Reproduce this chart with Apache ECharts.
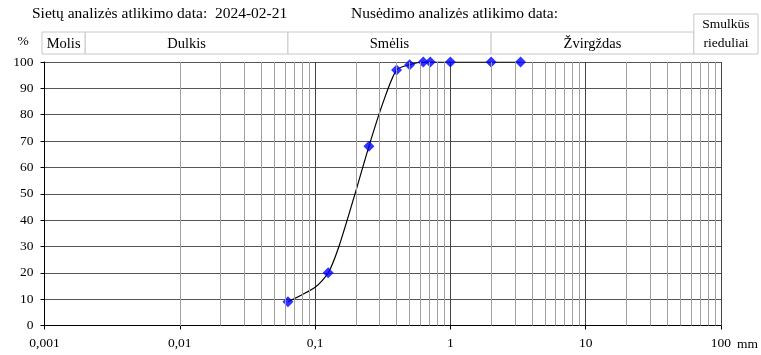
<!DOCTYPE html>
<html>
<head>
<meta charset="utf-8">
<script src="https://cdn.jsdelivr.net/npm/echarts@6/dist/echarts.min.js"></script>
<style>
  html, body { margin: 0; padding: 0; background: #fff; }
  #chart { width: 761px; height: 355px; }
</style>
</head>
<body>
<div id="chart"></div>
<script>
// sieve results: size (mm) and passing (%)
const sieveSizes = [0.063, 0.125, 0.25, 0.4, 0.5, 0.63, 0.71, 1, 2, 3.3];
const sievePassing = [9, 20, 68, 97, 99, 100, 100, 100, 100, 100];

// drawn grading curve
const curveSizes = [0.063, 0.1, 0.125, 0.15, 0.2, 0.25, 0.315, 0.4, 0.5, 0.63, 0.71, 1, 2, 3.3];
const curvePassing = [9, 14.5, 20, 30, 51, 68, 84, 97, 99, 100, 100, 100, 100, 100];

const xTickLabels = ['0,001', '0,01', '0,1', '1', '10', '100'];
const minorGrid = [];
for (let e = -3; e <= 1; e++) {
  for (let k = 2; k <= 9; k++) minorGrid.push(k * Math.pow(10, e));
}

// soil classes: name and upper bound (mm)
const classNames = ['Molis', 'Dulkis', 'Smėlis', 'Žvirgždas'];
const classBounds = [0.002, 0.063, 2, 63];

const FONT = '"Liberation Serif", "DejaVu Serif", serif';
const chart = echarts.init(document.getElementById('chart'));

chart.setOption({
  animation: false,
  grid: { left: 44.5, right: 39, top: 62, bottom: 29.5 },
  xAxis: {
    type: 'log',
    logBase: 10,
    min: 0.001,
    max: 100,
    interval: 1,
    name: 'mm',
    nameLocation: 'end',
    nameGap: 10,
    nameTextStyle: { fontFamily: FONT, fontSize: 13.5, color: '#000', verticalAlign: 'top', padding: [12, 0, 0, 0] },
    axisLine: { lineStyle: { color: '#000', width: 1 } },
    axisTick: { show: true, length: 4, lineStyle: { color: '#000' } },
    axisLabel: {
      margin: 11,
      fontFamily: FONT,
      fontSize: 13.5,
      color: '#000',
      formatter: v => xTickLabels[Math.round(Math.log10(v)) + 3] || ''
    },
    splitLine: { show: true, lineStyle: { color: '#444', width: 1 } },
    minorTick: { show: false },
    minorSplitLine: { show: false }
  },
  yAxis: {
    type: 'value',
    min: 0,
    max: 100,
    interval: 10,
    axisLine: { show: true, lineStyle: { color: '#000', width: 1 } },
    axisTick: { show: true, length: 4, lineStyle: { color: '#000' } },
    axisLabel: { margin: 11, fontFamily: FONT, fontSize: 13.5, color: '#000' },
    splitLine: { show: true, lineStyle: { color: '#555', width: 1 } }
  },
  series: [
    {
      type: 'line',
      data: [[0.001, 0]],
      symbolSize: 0,
      silent: true,
      z: 1,
      lineStyle: { width: 0 },
      markLine: {
        silent: true,
        symbol: 'none',
        label: { show: false },
        lineStyle: { color: '#a0a0a0', width: 1, type: 'solid' },
        data: minorGrid.map(v => ({ xAxis: v }))
      }
    },
    {
      type: 'line',
      data: curveSizes.map((s, i) => [s, curvePassing[i]]),
      smooth: 0.25,
      showSymbol: false,
      silent: true,
      z: 3,
      lineStyle: { color: '#000', width: 1.2 }
    },
    {
      type: 'scatter',
      data: sieveSizes.map((s, i) => [s, sievePassing[i]]),
      symbol: 'diamond',
      symbolSize: [11, 11],
      z: 4,
      itemStyle: { color: '#0000ff' }
    }
  ]
});

// header table: class borders placed through the x scale
const px = v => chart.convertToPixel({ xAxisIndex: 0 }, v);
const edges = [42].concat(classBounds.map(px));
const rowTop = 32, rowBottom = 54;
const cellStyle = { fill: '#fff', stroke: '#c8c8c8', lineWidth: 1 };
const textStyle = { fontFamily: FONT, fontSize: 14.5, fill: '#000', align: 'center', verticalAlign: 'middle' };
const graphics = [];
classNames.forEach((name, i) => {
  graphics.push({
    type: 'rect',
    shape: { x: edges[i], y: rowTop, width: edges[i + 1] - edges[i], height: rowBottom - rowTop },
    style: cellStyle
  });
  graphics.push({
    type: 'text',
    x: (edges[i] + edges[i + 1]) / 2,
    y: (rowTop + rowBottom) / 2 + 1,
    style: Object.assign({ text: name }, textStyle)
  });
});
const lastEdge = edges[edges.length - 1];
graphics.push({
  type: 'rect',
  shape: { x: lastEdge, y: 14, width: 758 - lastEdge, height: rowBottom - 14 },
  style: cellStyle
});
graphics.push({
  type: 'text',
  x: (lastEdge + 758) / 2,
  y: 34,
  style: Object.assign({ text: 'Smulkūs\nrieduliai', lineHeight: 19 }, textStyle, { fontSize: 13.5 })
});
graphics.push({
  type: 'text', x: 32, y: 14,
  style: { text: 'Sietų analizės atlikimo data:  2024-02-21', fontFamily: FONT, fontSize: 15.5, fill: '#000', verticalAlign: 'middle' }
});
graphics.push({
  type: 'text', x: 351, y: 14,
  style: { text: 'Nusėdimo analizės atlikimo data:', fontFamily: FONT, fontSize: 15.5, fill: '#000', verticalAlign: 'middle' }
});
graphics.push({
  type: 'text', x: 23, y: 41,
  style: { text: '%', fontFamily: FONT, fontSize: 13.5, fill: '#000', align: 'center', verticalAlign: 'middle' }
});
chart.setOption({ graphic: graphics });
</script>
</body>
</html>
